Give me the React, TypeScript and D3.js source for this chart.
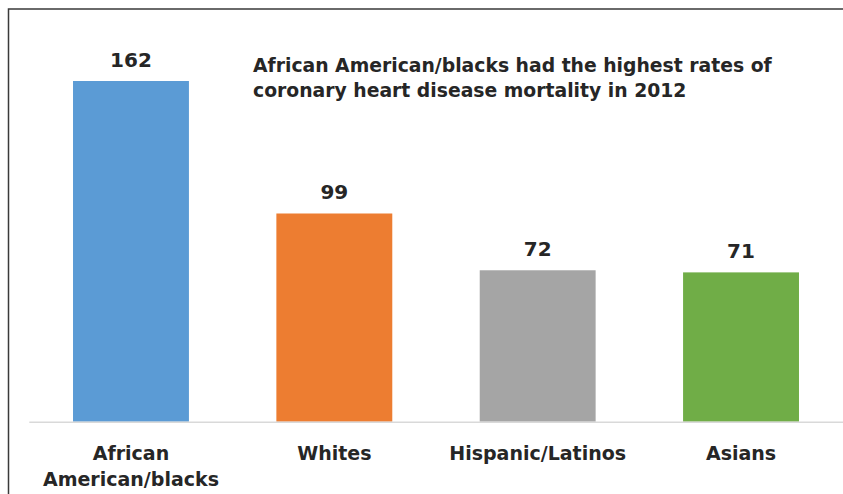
import React from "react";
import * as d3 from "d3";

const categories = ["African American/blacks", "Whites", "Hispanic/Latinos", "Asians"];
const categoryLines = [["African", "American/blacks"], ["Whites"], ["Hispanic/Latinos"], ["Asians"]];
const values = [162, 99, 72, 71];
const colors = ["#5B9BD5", "#ED7D31", "#A5A5A5", "#70AD47"];
const titleLines = [
  "African American/blacks had the highest rates of",
  "coronary heart disease mortality in 2012",
];

const W = 843;
const H = 494;
const FONT = "'DejaVu Sans', sans-serif";

export default function App() {
  const x = d3
    .scaleBand<string>()
    .domain(categories)
    .range([29.3, 842.7])
    .paddingInner(0.43)
    .paddingOuter(0.215);
  const y = d3.scaleLinear().domain([0, 162]).range([421.7, 81]);

  return (
    <svg
      width={W}
      height={H}
      style={{ position: "absolute", left: 0, top: 0, background: "#fff" }}
      fontFamily={FONT}
    >
      <rect x={0} y={0} width={W} height={H} fill="#fff" />
      <path d="M8.5,494 V9 H843" fill="none" stroke="#3a3a3a" strokeWidth={1.5} />
      {categories.map((c, i) => (
        <rect
          key={c}
          x={x(c)}
          y={y(values[i])}
          width={x.bandwidth()}
          height={y(0) - y(values[i])}
          fill={colors[i]}
        />
      ))}
      <line x1={29.3} x2={843} y1={y(0) + 0.5} y2={y(0) + 0.5} stroke="#d9d9d9" strokeWidth={1.5} />
      {categories.map((c, i) => (
        <text
          key={"v" + c}
          x={(x(c) as number) + x.bandwidth() / 2}
          y={y(values[i]) - 14}
          textAnchor="middle"
          fontSize={20}
          fontWeight="bold"
          fill="#262626"
        >
          {values[i]}
        </text>
      ))}
      {categories.map((c, i) => (
        <text
          key={"c" + c}
          x={(x(c) as number) + x.bandwidth() / 2}
          y={460}
          textAnchor="middle"
          fontSize={19}
          fontWeight="bold"
          fill="#262626"
        >
          {categoryLines[i].map((l, j) => (
            <tspan key={j} x={(x(c) as number) + x.bandwidth() / 2} dy={j === 0 ? 0 : 26}>
              {l}
            </tspan>
          ))}
        </text>
      ))}
      {titleLines.map((t, i) => (
        <text key={"t" + i} x={253} y={71.7 + i * 25} fontSize={18.8} fontWeight="bold" fill="#262626">
          {t}
        </text>
      ))}
    </svg>
  );
}
